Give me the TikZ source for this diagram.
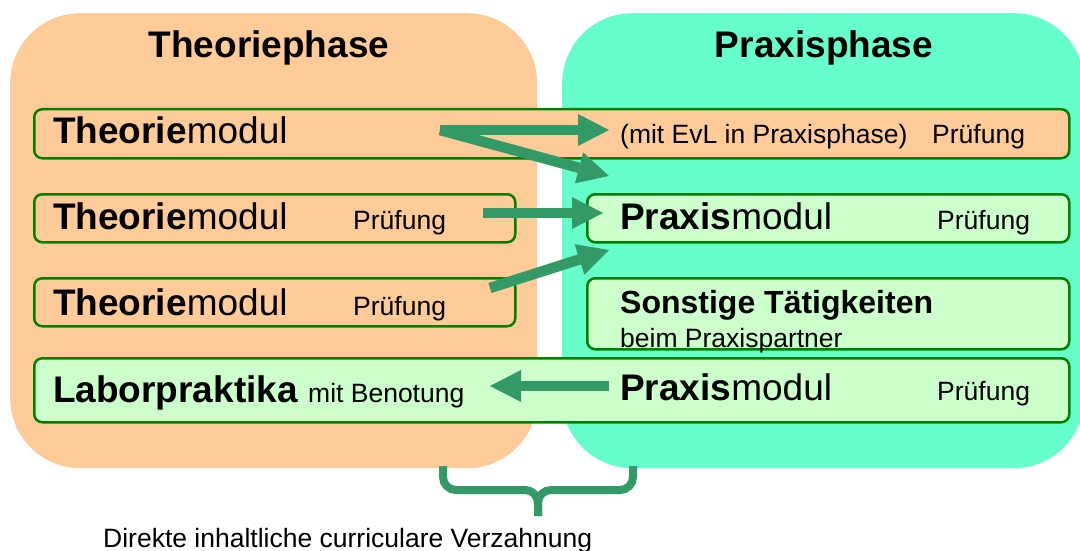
\documentclass[tikz,border=0pt]{standalone}
\usepackage{fontspec}
\setmainfont{Liberation Sans}
\usetikzlibrary{arrows.meta}
\definecolor{orange1}{rgb}{1,0.8,0.6}
\definecolor{teal1}{rgb}{0.4,1,0.8}
\definecolor{green1}{rgb}{0.8,1,0.8}
\definecolor{green2}{rgb}{0,0.5,0}
\definecolor{green3}{rgb}{0.2,0.6,0.4}
\newcommand{\szbig}{\fontsize{37}{44}\selectfont}
\newcommand{\szmid}{\fontsize{32}{38}\selectfont}
\newcommand{\szsmall}{\fontsize{26.5}{31}\selectfont}

\begin{document}
\begin{tikzpicture}[x=1pt,y=-1pt,
    phase/.style={rounded corners=70pt,anchor=north west,inner sep=0pt},
    modbox/.style={draw=green2,line width=2.5pt,rounded corners=8pt,anchor=north west,inner sep=0pt},
    txt/.style={anchor=base west,inner sep=0pt},
    pfeil/.style={-{Triangle[length=31pt,width=32pt,line width=0pt]},line width=10.5pt,draw=green3}]
    \clip (0,0) rectangle (1080,551);
    \node (theo) [phase,fill=orange1,minimum width=527pt,minimum height=455pt] at (10,13) {};
    \node (prax) [phase,fill=teal1,minimum width=522pt,minimum height=455pt] at (562,13) {};
    \node (theotitle) [anchor=base,inner sep=0pt] at (269,58) {\szbig\bfseries Theoriephase};
    \node (praxtitle) [anchor=base,inner sep=0pt] at (824,58) {\szbig\bfseries Praxisphase};

    \node (box1) [modbox,fill=orange1,minimum width=1035pt,minimum height=49pt] at (33,108) {};
    \node (box2) [modbox,fill=orange1,minimum width=481pt,minimum height=48pt] at (33,193) {};
    \node (box3) [modbox,fill=orange1,minimum width=481pt,minimum height=48pt] at (33,277) {};
    \node (box4) [modbox,fill=green1,minimum width=482pt,minimum height=48pt] at (586,193) {};
    \node (box5) [modbox,fill=green1,minimum width=482pt,minimum height=71pt] at (586,277) {};
    \node (box6) [modbox,fill=green1,minimum width=1035pt,minimum height=64pt] at (33,357) {};

    \node (tm1) [txt] at (53,143) {\szbig\textbf{Theorie}modul};
    \node (evl) [txt] at (620,143) {\szsmall(mit EvL in Praxisphase)};
    \node (pr1) [txt] at (932,143) {\szsmall Prüfung};
    \node (tm2) [txt] at (53,229) {\szbig\textbf{Theorie}modul};
    \node (pr2) [txt] at (353,229) {\szsmall Prüfung};
    \node (pm1) [txt] at (620,229) {\szbig\textbf{Praxis}modul};
    \node (pr3) [txt] at (937,229) {\szsmall Prüfung};
    \node (tm3) [txt] at (53,315) {\szbig\textbf{Theorie}modul};
    \node (pr4) [txt] at (353,315) {\szsmall Prüfung};
    \node (sonst) [txt] at (620,313) {\szmid\bfseries Sonstige Tätigkeiten};
    \node (partner) [txt] at (620,347) {\szsmall beim Praxispartner};
    \node (labor) [txt] at (53,402) {\szbig\bfseries Laborpraktika};
    \node (note) [txt] at (308,402) {\szsmall mit Benotung};
    \node (pm2) [txt] at (620,400) {\szbig\textbf{Praxis}modul};
    \node (pr5) [txt] at (937,400) {\szsmall Prüfung};

    \coordinate (s1) at (440,130);
    \coordinate (e1) at (609,130);
    \coordinate (e2) at (609,176);
    \coordinate (s3) at (483,213);
    \coordinate (e3) at (603,213);
    \coordinate (s4) at (490,288);
    \coordinate (e4) at (609,250);
    \coordinate (s5) at (609,386);
    \coordinate (e5) at (490,386);
    \draw[pfeil] (s1) -- (e1);
    \draw[pfeil] (s1) -- (e2);
    \draw[pfeil] (s3) -- (e3);
    \draw[pfeil] (s4) -- (e4);
    \draw[pfeil] (s5) -- (e5);

    \draw[green3,line width=8pt,rounded corners=13pt] (443,466) -- (443,490) -- (538,490) -- (538,516);
    \draw[green3,line width=8pt,rounded corners=13pt] (633,466) -- (633,490) -- (538,490) -- (538,516);
    \node (verz) [txt] at (103,547) {\szsmall Direkte inhaltliche curriculare Verzahnung};
\end{tikzpicture}
\end{document}
